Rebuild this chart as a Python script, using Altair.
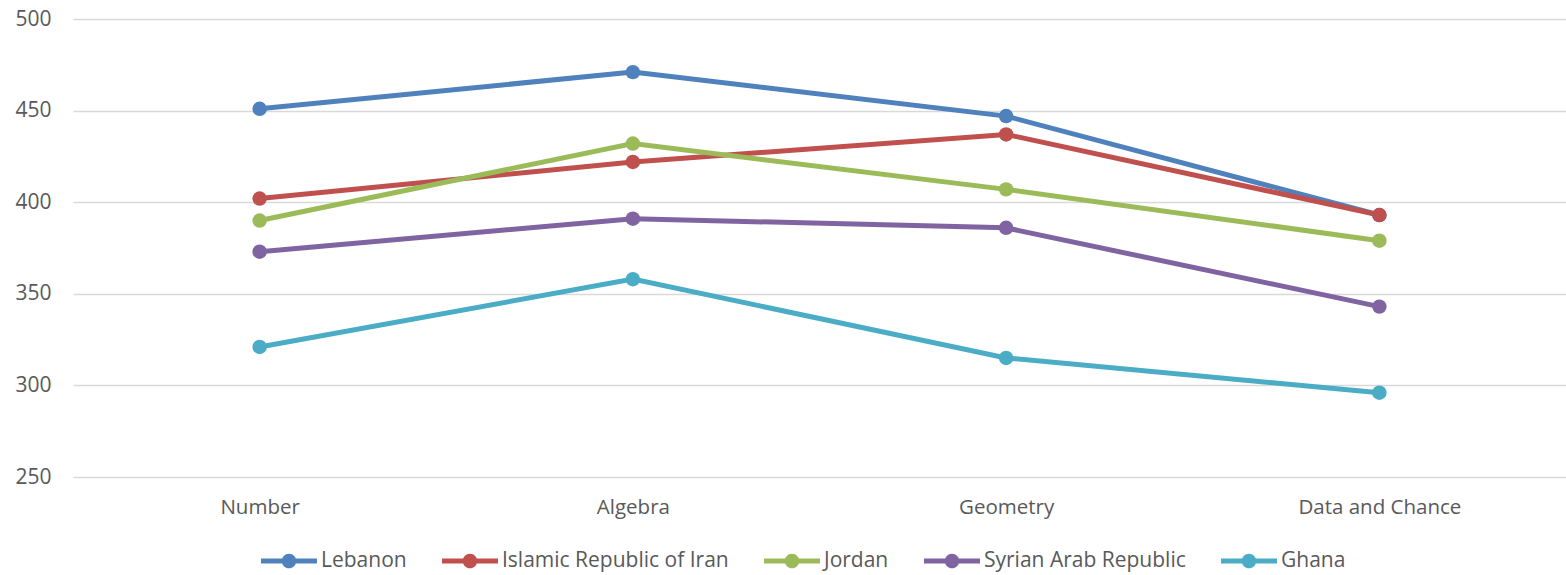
import altair as alt
import pandas as pd

categories = ["Number", "Algebra", "Geometry", "Data and Chance"]
countries = ["Lebanon", "Islamic Republic of Iran", "Jordan", "Syrian Arab Republic", "Ghana"]
colors = ["#4F81BD", "#C0504D", "#9BBB59", "#8064A2", "#4BACC6"]
lebanon = [451, 471, 447, 393]
iran = [402, 422, 437, 393]
jordan = [390, 432, 407, 379]
syria = [373, 391, 386, 343]
ghana = [321, 358, 315, 296]

series = [lebanon, iran, jordan, syria, ghana]
rows = []
for ci, (name, vals) in enumerate(zip(countries, series)):
    for cat, v in zip(categories, vals):
        rows.append({"country": name, "domain": cat, "score": v, "order": ci})
df = pd.DataFrame(rows)

FONT = "Open Sans"
TXT = "#595959"

legend_symbol = (
    "M-1,-0.085 L1,-0.085 L1,0.085 L-1,0.085 Z "
    "M-0.26,0 A0.26,0.26 0 1,1 0.26,0 A0.26,0.26 0 1,1 -0.26,0 Z"
)

x = alt.X("domain:N", sort=categories, scale=alt.Scale(padding=0.5),
          axis=alt.Axis(title=None, labelAngle=0, domain=False, ticks=False,
                        grid=False, labelPadding=20, labelFontSize=20.5,
                        labelFont=FONT, labelColor=TXT))
y = alt.Y("score:Q", scale=alt.Scale(domain=[250, 500], nice=False, zero=False),
          axis=alt.Axis(title=None, values=[250, 300, 350, 400, 450, 500],
                        domain=False, ticks=False, gridColor="#D9D9D9",
                        gridWidth=1.5, labelPadding=22, labelFontSize=21,
                        labelFont=FONT, labelColor=TXT))
color = alt.Color("country:N", sort=countries,
                  scale=alt.Scale(domain=countries, range=colors),
                  legend=alt.Legend(title=None, orient="none", direction="horizontal",
                                    legendX=188, legendY=514,
                                    symbolType=legend_symbol, symbolSize=3136,
                                    symbolStrokeWidth=0, symbolOpacity=1,
                                    labelFont=FONT, labelFontSize=21,
                                    labelColor=TXT, labelOffset=4,
                                    columnPadding=35, columns=5,
                                    labelLimit=400))

base = alt.Chart(df).encode(x=x, y=y, color=color, order=alt.Order("order:Q"))
lines = base.mark_line(strokeWidth=5)
points = base.mark_point(filled=True, size=210, opacity=1, shape="circle")

chart = alt.layer(lines, points).properties(
    width=1493, height=458,
    padding={"left": 73, "top": 19, "right": 0, "bottom": 98},
    autosize=alt.AutoSizeParams(type="none"),
    background="white",
).configure_view(stroke=None)

chart.save("out.html", embed_options={"renderer": "svg", "actions": False})
